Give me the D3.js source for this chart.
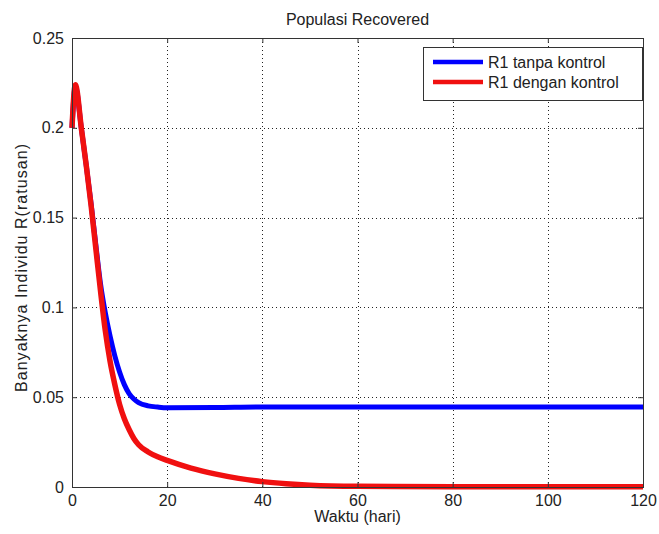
<!DOCTYPE html>
<html>
<head>
<meta charset="utf-8">
<script src="https://cdn.jsdelivr.net/npm/d3@7"></script>
<style>
  body { margin: 0; background: #fff; }
  text { font-family: Arial, "Liberation Sans", sans-serif; fill: #222; }
</style>
</head>
<body>
<div id="vis"></div>
<script>
// values
var tBlue = [0, 0.7, 2, 3, 4, 5, 6, 7, 8, 9, 10, 11, 12, 13, 14, 16, 18, 20, 30, 40, 60, 80, 100, 120];
var rBlue = [0.2, 0.223, 0.199, 0.179, 0.158, 0.135, 0.113, 0.097, 0.084, 0.073, 0.064, 0.057, 0.052, 0.049, 0.047, 0.0452, 0.0445, 0.0441, 0.0442, 0.0445, 0.0445, 0.0445, 0.0445, 0.0445];

var tRed = [0, 0.7, 2, 3, 4, 5, 6, 7, 8, 9, 10, 11, 12, 13, 14, 16, 18, 20, 25, 30, 35, 40, 45, 50, 60, 80, 100, 120];
var rRed = [0.2, 0.224, 0.199, 0.179, 0.157, 0.133, 0.109, 0.087, 0.07, 0.057, 0.046, 0.038, 0.032, 0.027, 0.0235, 0.0195, 0.0168, 0.0148, 0.0105, 0.0073, 0.0048, 0.003, 0.0018, 0.001, 0.0004, 0.0002, 0.0001, 0.0001];

var xTicks = [0, 20, 40, 60, 80, 100, 120];
var yTicks = [0, 0.05, 0.1, 0.15, 0.2, 0.25];
var seriesNames = ["R1 tanpa kontrol", "R1 dengan kontrol"];
var seriesColors = ["#0000ff", "#f01010"];

var W = 659, H = 534;
var margin = {top: 38, right: 16, bottom: 47, left: 72};
var width = W - margin.left - margin.right,
    height = H - margin.top - margin.bottom;

var svg = d3.select("#vis").append("svg")
    .attr("width", W)
    .attr("height", H);

var g = svg.append("g").attr("transform", "translate(" + margin.left + "," + margin.top + ")");

var x = d3.scaleLinear().domain([0, 120]).range([0, width]);
var y = d3.scaleLinear().domain([0, 0.25]).range([height, 0]);

// dotted grid
g.append("g").selectAll("line")
    .data(xTicks.slice(1, -1))
    .enter().append("line")
      .attr("x1", function(d) { return Math.round(x(d)) + 0.5; })
      .attr("x2", function(d) { return Math.round(x(d)) + 0.5; })
      .attr("y1", 0).attr("y2", height)
      .attr("stroke", "#222").attr("stroke-dasharray", "1,3");

g.append("g").selectAll("line")
    .data(yTicks.slice(1, -1))
    .enter().append("line")
      .attr("y1", function(d) { return Math.round(y(d)) + 0.5; })
      .attr("y2", function(d) { return Math.round(y(d)) + 0.5; })
      .attr("x1", 0).attr("x2", width)
      .attr("stroke", "#222").attr("stroke-dasharray", "1,3");

// curves
var line = d3.line()
    .x(function(d) { return x(d[0]); })
    .y(function(d) { return y(d[1]); })
    .curve(d3.curveMonotoneX);

var blueData = d3.zip(tBlue, rBlue),
    redData = d3.zip(tRed, rRed);

g.append("path").datum(blueData)
    .attr("d", line).attr("fill", "none")
    .attr("stroke", seriesColors[0]).attr("stroke-width", 5);

g.append("path").datum(redData)
    .attr("d", line).attr("fill", "none")
    .attr("stroke", seriesColors[1]).attr("stroke-width", 5.5);

// axes box with inward ticks on all sides
var axFont = "16px";
g.append("g")
    .attr("transform", "translate(0," + height + ")")
    .call(d3.axisBottom(x).tickValues(xTicks).tickSizeInner(-5).tickSizeOuter(0).tickPadding(8))
    .call(function(a) {
      a.select(".domain").remove();
      a.selectAll("text").style("font-size", axFont).attr("fill", "#222");
      a.selectAll("line").attr("stroke", "#333");
    });

g.append("g")
    .call(d3.axisTop(x).tickValues(xTicks).tickSizeInner(-5).tickSizeOuter(0).tickFormat(""))
    .call(function(a) { a.select(".domain").remove(); a.selectAll("line").attr("stroke", "#333"); });

g.append("g")
    .call(d3.axisLeft(y).tickValues(yTicks).tickSizeInner(-5).tickSizeOuter(0).tickPadding(8)
      .tickFormat(function(d) { return d === 0 ? "0" : d3.format("")(+d.toFixed(2)); }))
    .call(function(a) {
      a.select(".domain").remove();
      a.selectAll("text").style("font-size", axFont).attr("fill", "#222");
      a.selectAll("line").attr("stroke", "#333");
    });

g.append("g")
    .attr("transform", "translate(" + width + ",0)")
    .call(d3.axisRight(y).tickValues(yTicks).tickSizeInner(-5).tickSizeOuter(0).tickFormat(""))
    .call(function(a) { a.select(".domain").remove(); a.selectAll("line").attr("stroke", "#333"); });

g.append("rect")
    .attr("x", 0.5).attr("y", 0.5)
    .attr("width", width).attr("height", height)
    .attr("fill", "none").attr("stroke", "#333");

// labels
svg.append("text")
    .attr("x", margin.left + width / 2).attr("y", 25)
    .attr("text-anchor", "middle").style("font-size", "16px")
    .text("Populasi Recovered");

svg.append("text")
    .attr("x", margin.left + width / 2).attr("y", 522)
    .attr("text-anchor", "middle").style("font-size", "16px")
    .text("Waktu (hari)");

svg.append("text")
    .attr("transform", "translate(27,268) rotate(-90)")
    .attr("text-anchor", "middle").style("font-size", "16px")
    .attr("textLength", 248).attr("lengthAdjust", "spacing")
    .text("Banyaknya Individu R(ratusan)");

// legend
var legend = svg.append("g").attr("transform", "translate(423,47)");
legend.append("rect")
    .attr("x", 0.5).attr("y", 0.5).attr("width", 219).attr("height", 53)
    .attr("fill", "#fff").attr("stroke", "#333");

var item = legend.selectAll("g.item")
    .data(seriesNames)
    .enter().append("g")
      .attr("class", "item")
      .attr("transform", function(d, i) { return "translate(0," + (15 + i * 20) + ")"; });

item.append("line")
    .attr("x1", 10).attr("x2", 60)
    .attr("stroke", function(d, i) { return seriesColors[i]; })
    .attr("stroke-width", 4.5);

item.append("text")
    .attr("x", 65).attr("dy", "0.35em")
    .style("font-size", "16px")
    .text(function(d) { return d; });
</script>
</body>
</html>
